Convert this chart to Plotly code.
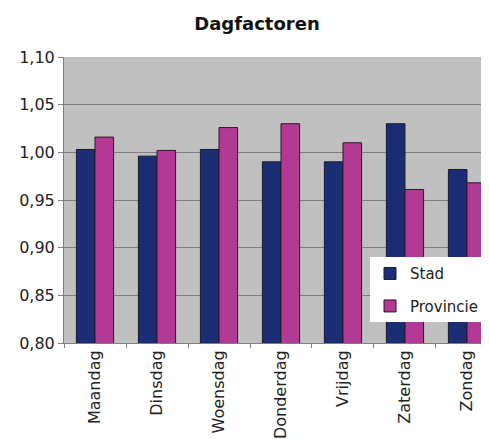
import plotly.graph_objects as go

categories = ["Maandag", "Dinsdag", "Woensdag", "Donderdag", "Vrijdag", "Zaterdag", "Zondag"]
stad = [1.003, 0.996, 1.003, 0.990, 0.990, 1.030, 0.982]
provincie = [1.016, 1.002, 1.026, 1.030, 1.010, 0.961, 0.968]
y_ticks = [0.80, 0.85, 0.90, 0.95, 1.00, 1.05, 1.10]

FONT = "DejaVu Sans"
W, H = 481, 431  # page body adds an 8px offset

fig = go.Figure()
fig.add_trace(go.Bar(
    x=categories, y=stad, name="Stad", legendgroup="a",
    marker=dict(color="#1b2d74", line=dict(color="#1a1a2a", width=1)),
))
fig.add_trace(go.Bar(
    x=categories, y=provincie, name="Provincie", legendgroup="b",
    marker=dict(color="#b23a94", line=dict(color="#2a1a2a", width=1)),
))

fig.update_layout(
    width=W, height=H,
    margin=dict(l=56, r=0, t=49, b=96),
    paper_bgcolor="white",
    plot_bgcolor="#c0c0c0",
    separators=",.",
    barmode="group",
    bargap=0.4,
    bargroupgap=0,
    title=dict(text="<b>Dagfactoren</b>", x=(257 - 8) / W, xanchor="center",
               y=1 - 16 / H, yanchor="middle",
               font=dict(family=FONT, size=18, color="#111")),
    font=dict(family=FONT, color="#222"),
    legend=dict(x=0.72, y=0.30, xanchor="left", yanchor="top",
                bgcolor="white", borderwidth=0,
                font=dict(family=FONT, size=15, color="#222"),
                tracegroupgap=10, itemwidth=30),
)
fig.update_xaxes(
    range=[-0.5, 6.355], tickson="boundaries", ticks="outside", ticklen=4,
    tickcolor="#808080", tickangle=-90, automargin=False,
    tickfont=dict(family=FONT, size=16, color="#222"),
    showline=True, linecolor="#808080", linewidth=1, showgrid=False,
)
fig.update_yaxes(
    range=[0.80, 1.10], tickvals=y_ticks, tickformat=".2f",
    ticks="outside", ticklen=5, tickcolor="#808080", automargin=False,
    tickfont=dict(family=FONT, size=16, color="#222"),
    showgrid=True, gridcolor="#7f7f7f", gridwidth=1,
    showline=True, linecolor="#808080", linewidth=1, mirror=True,
    zeroline=False,
)

fig.write_html("out.html")
